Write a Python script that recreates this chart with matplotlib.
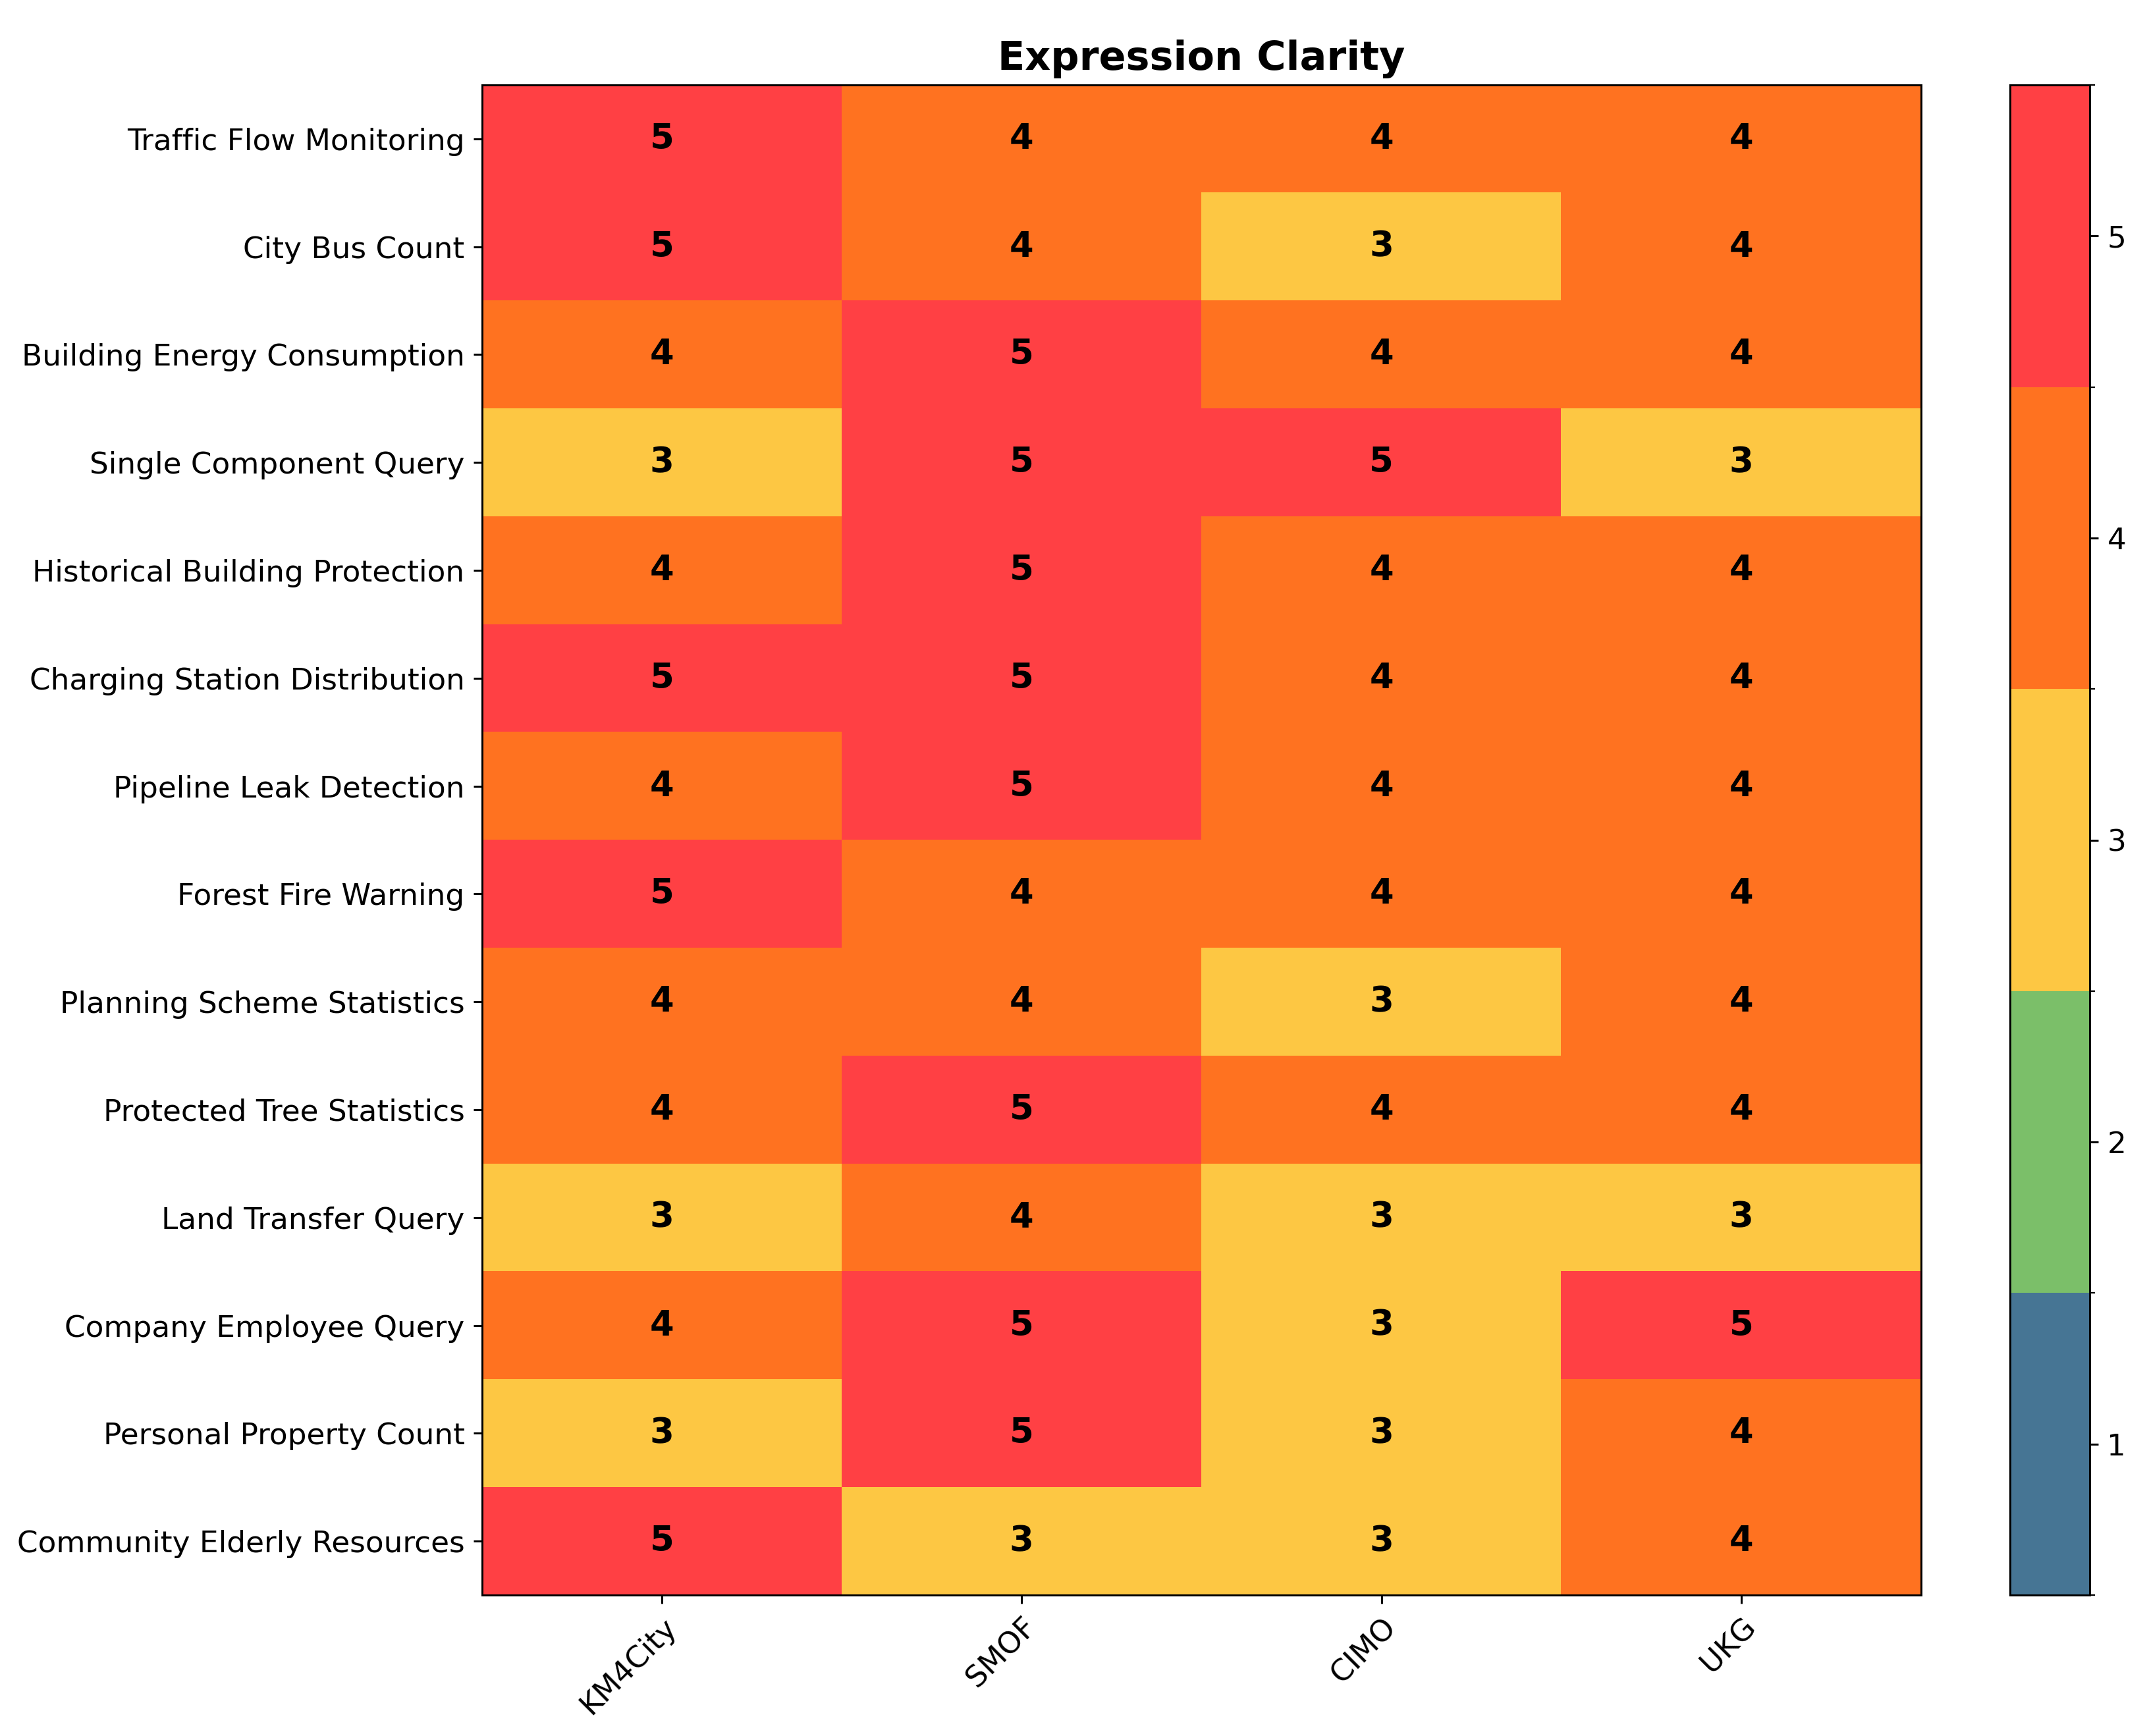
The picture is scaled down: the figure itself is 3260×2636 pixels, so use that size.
import numpy as np
import matplotlib
matplotlib.use("Agg")
import matplotlib.pyplot as plt
from matplotlib.colors import ListedColormap, BoundaryNorm

tasks = ["Traffic Flow Monitoring", "City Bus Count", "Building Energy Consumption",
         "Single Component Query", "Historical Building Protection",
         "Charging Station Distribution", "Pipeline Leak Detection", "Forest Fire Warning",
         "Planning Scheme Statistics", "Protected Tree Statistics", "Land Transfer Query",
         "Company Employee Query", "Personal Property Count", "Community Elderly Resources"]
models = ["KM4City", "SMOF", "CIMO", "UKG"]

km4city = [5, 5, 4, 3, 4, 5, 4, 5, 4, 4, 3, 4, 3, 5]
smof    = [4, 4, 5, 5, 5, 5, 5, 4, 4, 5, 4, 5, 5, 3]
cimo    = [4, 3, 4, 5, 4, 4, 4, 4, 3, 4, 3, 3, 3, 3]
ukg     = [4, 4, 4, 3, 4, 4, 4, 4, 4, 4, 3, 5, 4, 4]

levels = [1, 2, 3, 4, 5]
colors = ["#467594", "#7bbf69", "#fdc743", "#ff7220", "#ff4044"]

data = np.array([km4city, smof, cimo, ukg]).T

cmap = ListedColormap(colors)
bounds = [0.5, 1.5, 2.5, 3.5, 4.5, 5.5]
norm = BoundaryNorm(bounds, cmap.N)

DPI = 272
fig = plt.figure(figsize=(3260 / DPI, 2636 / DPI), dpi=DPI)
ax = fig.add_axes([732/3260, 1 - 2422/2636, (2917-732)/3260, (2422-129)/2636])
cax = fig.add_axes([3052/3260, 1 - 2422/2636, (3173-3052)/3260, (2422-129)/2636])

im = ax.imshow(data, cmap=cmap, norm=norm, aspect="auto")

ax.set_xticks(range(len(models)))
ax.set_xticklabels(models, fontsize=12, rotation=45, ha="right", rotation_mode="anchor")
ax.set_yticks(range(len(tasks)))
ax.set_yticklabels(tasks, fontsize=12)
ax.set_title("Expression Clarity", fontsize=16, fontweight="bold")

for i in range(data.shape[0]):
    for j in range(data.shape[1]):
        ax.text(j, i, str(data[i, j]), ha="center", va="center",
                fontsize=14, fontweight="bold", color="black")

cb = fig.colorbar(im, cax=cax, ticks=levels)
cb.ax.tick_params(labelsize=12)
cb.ax.set_yticks(bounds, minor=True)

fig.savefig("out.png", dpi=DPI)
